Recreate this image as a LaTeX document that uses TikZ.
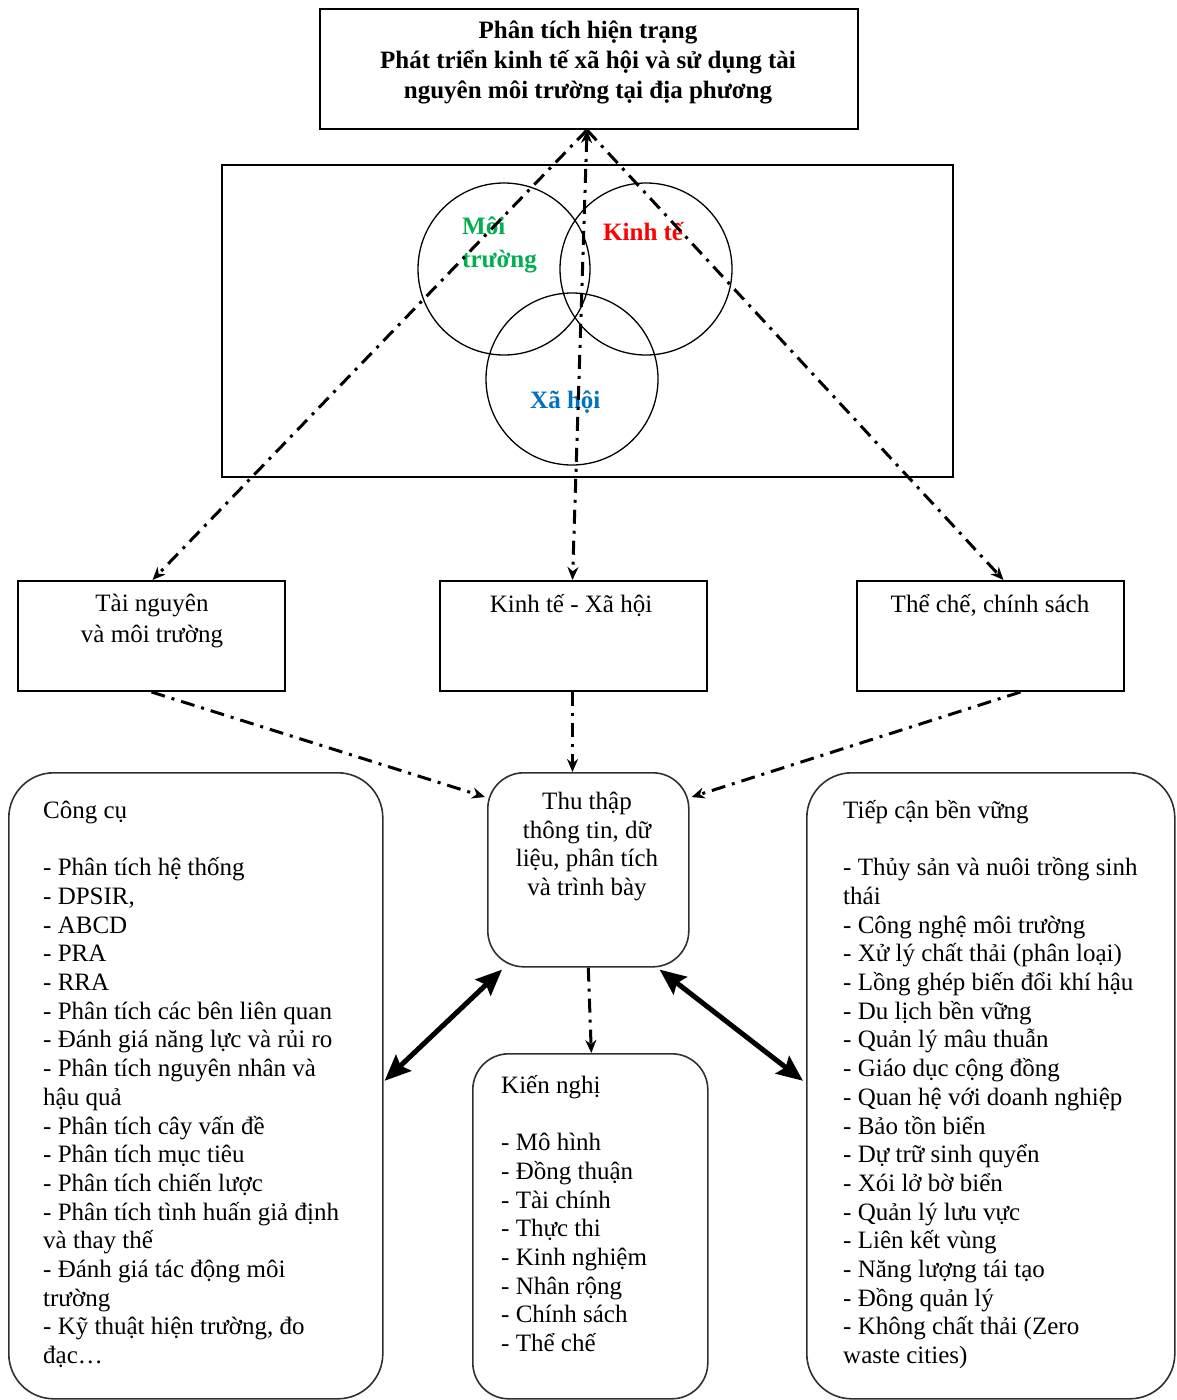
\documentclass[tikz,border=0pt]{standalone}
\usepackage{fontspec}
\setmainfont{Liberation Serif}
\usetikzlibrary{arrows.meta}
\definecolor{vgreen}{HTML}{00B050}
\definecolor{vred}{HTML}{FF0000}
\definecolor{vblue}{HTML}{0070C0}
\definecolor{edge}{HTML}{303030}
\begin{document}
\begin{tikzpicture}[x=1pt,y=-1pt,
  font=\fontsize{25}{28.7}\selectfont,
  sqbox/.style={draw=black, line width=2pt, inner sep=0pt, anchor=north west},
  rbox/.style={draw=edge, line width=1.6pt, rounded corners=#1, inner sep=0pt, anchor=north west},
  vcirc/.style={draw=black, line width=1.3pt, circle, minimum size=172pt, inner sep=0pt},
  dd/.style={line width=3pt, dash pattern=on 14pt off 7pt on 3pt off 7pt},
  smalltip/.style={-{Stealth[length=13pt,width=11pt]}},
  bigtip/.style={{Stealth[length=26pt,width=22pt,inset=4pt]}-{Stealth[length=26pt,width=22pt,inset=4pt]}, line width=5pt},
  txt/.style={inner sep=0pt},
  bold/.style={font=\bfseries\fontsize{25}{28.7}\selectfont}
]
\useasboundingbox (0,0) rectangle (1176,1400);
\fill[white] (0,0) rectangle (1176,1400);

% top box
\node[sqbox, minimum width=538pt, minimum height=120pt] (top) at (319,8) {};
\node[txt, font=\bfseries\fontsize{25}{30}\selectfont, align=center, anchor=north] (toptxt) at (588,17)
  {\strut Phân tích hiện trạng\\Phát triển kinh tế xã hội và sử dụng tài\\nguyên môi trường tại địa phương};

% venn frame
\node[sqbox, line width=1.6pt, minimum width=731pt, minimum height=312pt] (venn) at (221,164) {};
\node[vcirc] (cenv) at (504,269) {};
\node[vcirc] (ceco) at (646,269) {};
\node[vcirc] (csoc) at (572,379) {};
\node[txt, font=\bfseries\fontsize{25}{33}\selectfont, text=vgreen, align=left, anchor=north west] (lenv) at (462,211) {\strut Môi\\trường};
\node[txt, bold, text=vred, anchor=base west] (leco) at (603,240) {Kinh tế};
\node[txt, bold, text=vblue, anchor=base west] (lsoc) at (530,408) {Xã hội};

% middle boxes
\node[sqbox, minimum width=267pt, minimum height=110pt] (tn) at (17,580) {};
\node[sqbox, minimum width=267pt, minimum height=110pt] (kt) at (439,580) {};
\node[sqbox, minimum width=267pt, minimum height=110pt] (tc) at (856,580) {};
\node[txt, font=\fontsize{25}{31}\selectfont, align=center, anchor=north] (tntxt) at (152,590) {\strut Tài nguyên\\và môi trường};
\node[txt, anchor=base] (kttxt) at (571,612) {Kinh tế - Xã hội};
\node[txt, anchor=base] (tctxt) at (990,612) {Thể chế, chính sách};

% rounded boxes
\node[rbox=45pt, minimum width=374pt, minimum height=626pt] (cong) at (8,772) {};
\node[rbox=45pt, minimum width=368pt, minimum height=626pt] (tiep) at (806,772) {};
\node[rbox=36pt, minimum width=201pt, minimum height=194pt] (thu) at (487,772) {};
\node[rbox=36pt, minimum width=235pt, minimum height=345pt] (kn) at (472,1053) {};

\node[txt, align=center, anchor=north] (thutxt) at (587,789)
  {\strut Thu thập\\thông tin, dữ\\liệu, phân tích\\và trình bày};

\node[txt, align=left, anchor=north west] (congtxt) at (43,798)
  {\strut Công cụ\\[28.7pt]
   - Phân tích hệ thống\\
   - DPSIR,\\
   - ABCD\\
   - PRA\\
   - RRA\\
   - Phân tích các bên liên quan\\
   - Đánh giá năng lực và rủi ro\\
   - Phân tích nguyên nhân và\\
   hậu quả\\
   - Phân tích cây vấn đề\\
   - Phân tích mục tiêu\\
   - Phân tích chiến lược\\
   - Phân tích tình huấn giả định\\
   và thay thế\\
   - Đánh giá tác động môi\\
   trường\\
   - Kỹ thuật hiện trường, đo\\
   đạc…};

\node[txt, align=left, anchor=north west] (tieptxt) at (843,798)
  {\strut Tiếp cận bền vững\\[28.7pt]
   - Thủy sản và nuôi trồng sinh\\
   thái\\
   - Công nghệ môi trường\\
   - Xử lý chất thải (phân loại)\\
   - Lồng ghép biến đổi khí hậu\\
   - Du lịch bền vững\\
   - Quản lý mâu thuẫn\\
   - Giáo dục cộng đồng\\
   - Quan hệ với doanh nghiệp\\
   - Bảo tồn biển\\
   - Dự trữ sinh quyển\\
   - Xói lở bờ biển\\
   - Quản lý lưu vực\\
   - Liên kết vùng\\
   - Năng lượng tái tạo\\
   - Đồng quản lý\\
   - Không chất thải (Zero\\
   waste cities)};

\node[txt, align=left, anchor=north west] (kntxt) at (501,1073)
  {\strut Kiến nghị\\[28.7pt]
   - Mô hình\\
   - Đồng thuận\\
   - Tài chính\\
   - Thực thi\\
   - Kinh nghiệm\\
   - Nhân rộng\\
   - Chính sách\\
   - Thể chế};

% upper dash-dot connectors
\coordinate (apex) at (587,130);
\draw[dd, {Stealth[length=13pt,width=11pt]}-{Stealth[length=13pt,width=11pt]}] (apex) -- ([xshift=-1pt]kt.north);
\draw[dd, smalltip] (apex) -- ([xshift=1pt]tn.north);
\draw[dd, smalltip] (apex) -- ([xshift=13pt]tc.north);

% lower dash-dot connectors
\draw[dd, smalltip] (tn.south) -- ([xshift=-2pt,yshift=-25pt]thu.north west);
\draw[dd, smalltip] ([xshift=-1pt]kt.south) -- ([xshift=-1pt]kt.south |- thu.north);
\draw[dd, smalltip] ([xshift=30pt]tc.south) -- ([xshift=2pt,yshift=-25pt]thu.north east);
\draw[dd, smalltip] (thu.south) -- ([xshift=3pt]thu.south |- kn.north);

% thick double arrows
\draw[bigtip] ([xshift=1pt,yshift=5pt]cong.east) -- ([xshift=15pt,yshift=-2pt]thu.south west);
\draw[bigtip] ([xshift=-30pt,yshift=-2pt]thu.south east) -- ([xshift=-3pt,yshift=5pt]tiep.west);
\end{tikzpicture}
\end{document}
